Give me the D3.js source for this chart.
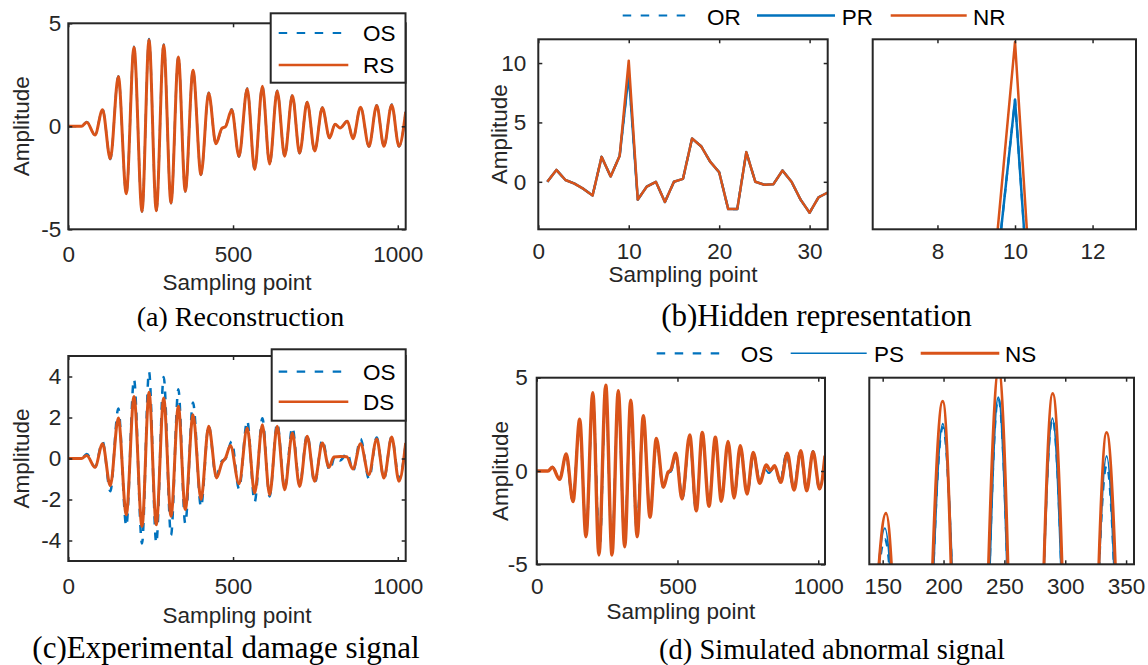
<!DOCTYPE html>
<html>
<head>
<meta charset="utf-8">
<script src="https://cdn.jsdelivr.net/npm/d3@7"></script>
<style>
  body { margin: 0; background: #fff; }
  svg { display: block; }
</style>
</head>
<body>
<svg id="fig" width="1148" height="665"></svg>
<script>
// ---- Guided-wave signals: sample index and amplitude at each turning point ----
const sigSample = [0, 40, 56, 81, 104, 127.5, 151.8, 176, 199.4, 223.7, 245, 267, 289.5, 311.7, 334, 355, 378.5, 402.7, 426, 448, 466, 477, 496, 518, 543, 565.6, 589, 611, 634, 656.7, 680, 702, 725, 747.8, 771, 793, 809.5, 824.6, 847, 864, 887, 912.6, 936, 958, 981.5, 1003.6, 1024];
// original signal (OS)
const osValue = [0, 0, 0.22, -0.42, 0.83, -1.6, 2.44, -3.29, 3.87, -4.15, 4.24, -4.12, 3.98, -3.74, 3.38, -3.17, 2.73, -2.36, 1.63, -0.86, -0.12, -0.02, 0.83, -1.48, 1.84, -2.12, 1.96, -1.85, 1.73, -1.47, 1.52, -1.31, 1.19, -1.23, 0.92, -0.58, 0.11, -0.1, 0.27, -0.62, 0.95, -0.99, 1.03, -0.99, 1.07, -0.99, 0.71];
// reconstructed signal (RS)
const rsValue = [0, 0, 0.2, -0.42, 0.8, -1.58, 2.42, -3.27, 3.84, -4.13, 4.2, -4.1, 3.95, -3.72, 3.36, -3.15, 2.72, -2.35, 1.62, -0.85, -0.1, -0.02, 0.8, -1.46, 1.82, -2.1, 1.94, -1.83, 1.71, -1.45, 1.5, -1.3, 1.17, -1.2, 0.9, -0.56, 0.1, -0.08, 0.25, -0.6, 0.93, -0.97, 1.01, -0.97, 1.04, -0.97, 0.7];
// positive (normal) signal (PS)
const psValue = [0, 0, 0.22, -0.42, 0.83, -1.6, 2.58, -3.29, 3.91, -4.15, 4.25, -4.12, 3.98, -3.74, 3.5, -3.17, 2.73, -2.36, 1.63, -0.86, -0.12, -0.02, 0.83, -1.48, 1.84, -2.12, 1.96, -1.85, 1.73, -1.47, 1.52, -1.31, 1.19, -1.23, 0.92, -0.58, 0.11, -0.1, 0.27, -0.62, 0.95, -0.99, 1.03, -0.99, 1.07, -0.99, 0.71];

// experimental damage signal (DS)
const dsSample = [0, 40, 56, 81, 104, 127.5, 151.8, 176, 199.4, 223.7, 245, 267, 289.5, 311.7, 334, 355, 378.5, 402.7, 426, 450, 467, 477, 492, 518, 543, 565.6, 589, 611, 634, 656.7, 680, 702, 725, 747.8, 771, 791, 806, 826, 845, 864, 887, 912, 936, 958, 981.5, 1003.6, 1024];
const dsValue = [0, 0, 0.15, -0.43, 0.72, -1.33, 1.98, -2.74, 3.03, -3.31, 3.23, -3.23, 2.95, -2.82, 2.55, -2.5, 2.14, -2.0, 1.57, -0.95, -0.18, 0.02, 0.63, -1.23, 1.49, -1.68, 1.65, -1.77, 1.57, -1.52, 1.24, -1.36, 1.08, -1.11, 0.76, -0.43, 0.07, 0.1, 0.08, -0.51, 0.72, -0.79, 0.95, -0.95, 1.05, -1.11, 0.76];

// simulated abnormal signal (NS)
const nsSample = [0, 40, 55.5, 81.6, 105, 129, 152.7, 175, 199.3, 221, 245.3, 267.5, 289.7, 312.6, 334, 357, 378.7, 402.5, 425, 450, 467, 476, 494, 516, 543.5, 567, 588, 612, 634.5, 655.8, 679.6, 701, 723, 747, 769, 792, 815.6, 830, 845, 866.7, 890, 914, 938, 959, 981.5, 1005, 1024];
const nsValue = [0, 0, 0.2, -0.45, 0.91, -1.64, 2.77, -3.52, 4.2, -4.5, 4.6, -4.5, 4.3, -4.06, 3.8, -3.52, 2.96, -2.48, 1.75, -0.87, -0.05, 0.05, 0.95, -1.5, 1.93, -2.13, 2.07, -1.89, 1.81, -1.62, 1.59, -1.45, 1.36, -1.23, 1.0, -0.66, 0.32, 0.02, 0.28, -0.61, 0.95, -1.02, 1.09, -1.06, 1.03, -0.96, 0.82];

// ---- Hidden representation (32 latent units) ----
const hiddenIndex = [1, 2, 3, 4, 5, 6, 7, 8, 9, 10, 11, 12, 13, 14, 15, 16, 17, 18, 19, 20, 21, 22, 23, 24, 25, 26, 27, 28, 29, 30, 31, 32];
const orValue = [0, 1.0, 0.15, -0.15, -0.6, -1.15, 2.1, 0.45, 2.2, 9.1, -1.5, -0.4, 0, -1.7, 0, 0.25, 3.65, 3.0, 1.7, 0.8, -2.3, -2.3, 2.5, 0, -0.25, -0.2, 0.95, 0, -1.5, -2.6, -1.3, -0.9];
const prValue = [0, 1.0, 0.15, -0.15, -0.6, -1.15, 2.1, 0.45, 2.2, 9.1, -1.5, -0.4, 0, -1.7, 0, 0.25, 3.65, 3.0, 1.7, 0.8, -2.3, -2.3, 2.5, 0, -0.25, -0.2, 0.95, 0, -1.5, -2.6, -1.3, -0.9];
const nrValue = [0, 1.0, 0.15, -0.15, -0.6, -1.15, 2.1, 0.45, 2.2, 10.2, -1.5, -0.4, 0, -1.7, 0, 0.25, 3.65, 3.0, 1.7, 0.8, -2.3, -2.3, 2.5, 0, -0.25, -0.2, 0.95, 0, -1.5, -2.6, -1.3, -0.9];

// ---- Tick values and labels ----
const signalTicksX = [0, 500, 1000];
const ampTicks5 = [-5, 0, 5];
const ampTicks4 = [-4, -2, 0, 2, 4];
const hiddenTicksX = [0, 10, 20, 30];
const hiddenTicksY = [0, 5, 10];
const hiddenZoomTicksX = [8, 10, 12];
const signalZoomTicksX = [150, 200, 250, 300, 350];
const captions = ["(a) Reconstruction", "(b)Hidden representation", "(c)Experimental damage signal", "(d) Simulated abnormal signal"];

const BLUE = "#0072BD", ORANGE = "#D95319", INK = "#262626";
const SANS = "'Liberation Sans', Arial, sans-serif";
const SERIF = "'Liberation Serif', 'Times New Roman', serif";
const FS = 22.5, TICK = 4;
const plain = d => String(d);

const svg = d3.select("#fig");
let clipCount = 0;

const pairs = (xs, ys) => xs.map((v, i) => [v, ys[i]]);

function makePanel(box, xDom, yDom, opt) {
  const x = d3.scaleLinear().domain(xDom).range([box.l, box.r]);
  const y = d3.scaleLinear().domain(yDom).range([box.b, box.t]);
  const id = "clip" + (clipCount++);
  svg.append("clipPath").attr("id", id).append("rect")
    .attr("x", box.l).attr("y", box.t)
    .attr("width", box.r - box.l).attr("height", box.b - box.t);
  const plot = svg.append("g").attr("clip-path", `url(#${id})`);
  const axes = svg.append("g").attr("class", "axes");
  return { x, y, plot, axes, box, opt };
}

function finishPanel(p) {
  const { x, y, axes, box, opt } = p;
  axes.append("g").attr("transform", `translate(0,${box.b})`)
    .call(d3.axisBottom(x).tickValues(opt.xTicks).tickFormat(plain).tickSize(-TICK).tickSizeOuter(0).tickPadding(opt.xPad));
  axes.append("g").attr("transform", `translate(0,${box.t})`)
    .call(d3.axisTop(x).tickValues(opt.xTicks).tickSize(-TICK).tickSizeOuter(0).tickFormat(""));
  if (opt.yTicks) {
    axes.append("g").attr("transform", `translate(${box.l},0)`)
      .call(d3.axisLeft(y).tickValues(opt.yTicks).tickFormat(plain).tickSize(-TICK).tickSizeOuter(0).tickPadding(opt.yPad));
    axes.append("g").attr("transform", `translate(${box.r},0)`)
      .call(d3.axisRight(y).tickValues(opt.yTicks).tickSize(-TICK).tickSizeOuter(0).tickFormat(""));
  }
  axes.selectAll(".domain").remove();
  axes.selectAll(".tick line").attr("stroke", INK).attr("stroke-width", 1.5);
  axes.selectAll(".tick text").attr("fill", INK).style("font-family", SANS).style("font-size", FS + "px");
  axes.append("rect").attr("x", box.l).attr("y", box.t)
    .attr("width", box.r - box.l).attr("height", box.b - box.t)
    .attr("fill", "none").attr("stroke", INK).attr("stroke-width", 2);
  if (opt.xLabel) {
    axes.append("text").attr("x", (box.l + box.r) / 2).attr("y", opt.xLabelY)
      .attr("text-anchor", "middle").attr("fill", INK)
      .style("font-family", SANS).style("font-size", FS + "px").text(opt.xLabel);
  }
  if (opt.yLabel) {
    const cy = (box.t + box.b) / 2;
    axes.append("text").attr("transform", `translate(${opt.yLabelX},${cy}) rotate(-90)`)
      .attr("text-anchor", "middle").attr("fill", INK)
      .style("font-family", SANS).style("font-size", FS + "px").text(opt.yLabel);
  }
}

function drawLine(p, data, color, width, dash, curve) {
  const line = d3.line().x(d => p.x(d[0])).y(d => p.y(d[1])).curve(curve || d3.curveMonotoneX);
  p.plot.append("path").datum(data)
    .attr("d", line).attr("fill", "none")
    .attr("stroke", color).attr("stroke-width", width)
    .attr("stroke-linejoin", "round")
    .attr("stroke-dasharray", dash || null);
}

function legendItem(g, x0, x1, y, color, width, dash, label, tx, ty) {
  g.append("line").attr("x1", x0).attr("x2", x1).attr("y1", y).attr("y2", y)
    .attr("stroke", color).attr("stroke-width", width).attr("stroke-dasharray", dash || null);
  g.append("text").attr("x", tx).attr("y", ty).attr("fill", "#000")
    .style("font-family", SANS).style("font-size", FS + "px").text(label);
}

// ---------- (a) Reconstruction ----------
const pa = makePanel({ l: 68.3, r: 405.7, t: 23.3, b: 229.3 }, [0, 1024], [-5, 5],
  { xTicks: signalTicksX, yTicks: ampTicks5, xPad: 17, yPad: 7, xLabel: "Sampling point", xLabelY: 290, yLabel: "Amplitude", yLabelX: 29 });
drawLine(pa, pairs(sigSample, osValue), BLUE, 2.2, "8,8");
drawLine(pa, pairs(sigSample, rsValue), ORANGE, 3);
finishPanel(pa);
{
  const g = svg.append("g");
  g.append("rect").attr("x", 270.7).attr("y", 13.3).attr("width", 134.8).attr("height", 69.4)
    .attr("fill", "#fff").attr("stroke", INK).attr("stroke-width", 2);
  legendItem(g, 278.7, 348.3, 33, BLUE, 2.2, "8.5,9.5", "OS", 363, 40.5);
  legendItem(g, 278.7, 348.3, 65, ORANGE, 2.5, null, "RS", 363, 73);
}

// ---------- (b) Hidden representation ----------
const pb = makePanel({ l: 538.3, r: 827.7, t: 39.3, b: 229.3 }, [0, 32], [-4, 12],
  { xTicks: hiddenTicksX, yTicks: hiddenTicksY, xPad: 14, yPad: 12, xLabel: "Sampling point", xLabelY: 282, yLabel: "Amplitude", yLabelX: 507 });
drawLine(pb, pairs(hiddenIndex, orValue), BLUE, 2.2, "8,8", d3.curveLinear);
drawLine(pb, pairs(hiddenIndex, prValue), BLUE, 2.5, null, d3.curveLinear);
drawLine(pb, pairs(hiddenIndex, nrValue), ORANGE, 2.5, null, d3.curveLinear);
finishPanel(pb);

const pb2 = makePanel({ l: 872.7, r: 1136, t: 39.3, b: 229.3 }, [6.33, 13.12], [6.63, 10.25],
  { xTicks: hiddenZoomTicksX, yTicks: null, xPad: 14 });
drawLine(pb2, pairs(hiddenIndex, orValue), BLUE, 2.2, "8,8", d3.curveLinear);
drawLine(pb2, pairs(hiddenIndex, prValue), BLUE, 2.5, null, d3.curveLinear);
drawLine(pb2, pairs(hiddenIndex, nrValue), ORANGE, 2.5, null, d3.curveLinear);
finishPanel(pb2);
{
  const g = svg.append("g");
  legendItem(g, 622.7, 692.7, 15.5, BLUE, 2.2, "8.5,9.5", "OR", 707, 24.5);
  legendItem(g, 757, 835, 15.5, BLUE, 2.5, null, "PR", 841.7, 24.5);
  legendItem(g, 890.7, 966.7, 15.5, ORANGE, 2.5, null, "NR", 973, 24.5);
}

// ---------- (c) Experimental damage signal ----------
const pc = makePanel({ l: 68.3, r: 405.7, t: 356, b: 561 }, [0, 1024], [-5, 5],
  { xTicks: signalTicksX, yTicks: ampTicks4, xPad: 17, yPad: 7, xLabel: "Sampling point", xLabelY: 623, yLabel: "Amplitude", yLabelX: 29 });
drawLine(pc, pairs(sigSample, osValue), BLUE, 2.5, "8,8");
drawLine(pc, pairs(dsSample, dsValue), ORANGE, 3);
finishPanel(pc);
{
  const g = svg.append("g");
  g.append("rect").attr("x", 271.7).attr("y", 349.3).attr("width", 134).attr("height", 71.4)
    .attr("fill", "#fff").attr("stroke", INK).attr("stroke-width", 2);
  legendItem(g, 278.7, 348.3, 371.7, BLUE, 2.2, "8.5,9.5", "OS", 363, 379.5);
  legendItem(g, 278.7, 348.3, 401.7, ORANGE, 2.5, null, "DS", 363, 410);
}

// ---------- (d) Simulated abnormal signal ----------
const pd = makePanel({ l: 536.7, r: 825, t: 377.7, b: 564.3 }, [0, 1024], [-5, 5],
  { xTicks: signalTicksX, yTicks: ampTicks5, xPad: 13.5, yPad: 9, xLabel: "Sampling point", xLabelY: 619, yLabel: "Amplitude", yLabelX: 508 });
drawLine(pd, pairs(sigSample, osValue), BLUE, 2.2, "8,8");
drawLine(pd, pairs(sigSample, psValue), BLUE, 1.8);
drawLine(pd, pairs(nsSample, nsValue), ORANGE, 3.4);
finishPanel(pd);

const pd2 = makePanel({ l: 869.3, r: 1134, t: 377.7, b: 564.3 }, [139, 356.5], [2.12, 4.5],
  { xTicks: signalZoomTicksX, yTicks: null, xPad: 14 });
drawLine(pd2, pairs(sigSample, osValue), BLUE, 2.2, "8,8");
drawLine(pd2, pairs(sigSample, psValue), BLUE, 2.2);
drawLine(pd2, pairs(nsSample, nsValue), ORANGE, 3);
finishPanel(pd2);
{
  const g = svg.append("g");
  legendItem(g, 656.7, 726, 353.3, BLUE, 2.2, "8.5,9.5", "OS", 740.7, 361.5);
  legendItem(g, 790.7, 866.7, 353.3, BLUE, 1.5, null, "PS", 874, 361.5);
  legendItem(g, 920.7, 999.3, 353.3, ORANGE, 3, null, "NS", 1005, 361.5);
}

// ---------- Sub-figure captions ----------
const capPos = [[240.5, 326, 28], [816.5, 326, 31], [226, 658, 31], [832, 659, 28.5]];
svg.selectAll("text.caption").data(captions).join("text")
  .attr("class", "caption")
  .attr("x", (d, i) => capPos[i][0]).attr("y", (d, i) => capPos[i][1])
  .attr("text-anchor", "middle").attr("fill", "#000")
  .style("font-family", SERIF).style("font-size", (d, i) => capPos[i][2] + "px")
  .text(d => d);
</script>
</body>
</html>
